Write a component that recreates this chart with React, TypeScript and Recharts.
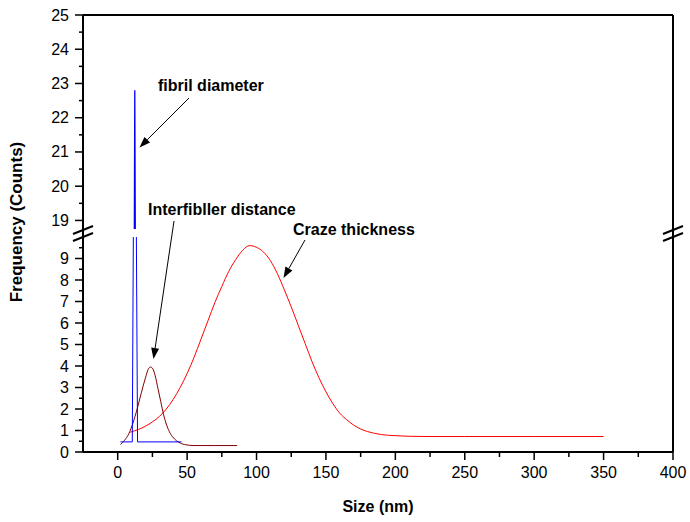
import { LineChart, Line, XAxis, YAxis } from "recharts";

// Craze thickness (red)
const crazeX = [9, 15, 20, 25, 30, 35, 40, 45, 50, 55, 60, 65, 70, 75, 80, 85, 90, 95, 100, 105, 110, 115, 120, 125, 130, 135, 140, 145, 150, 155, 160, 165, 170, 175, 180, 185, 190, 200, 210, 225, 250, 300, 350];
const crazeY = [0.92, 1.05, 1.2, 1.4, 1.65, 2.0, 2.45, 3.0, 3.65, 4.4, 5.25, 6.1, 6.95, 7.7, 8.4, 8.95, 9.38, 9.6, 9.52, 9.3, 8.9, 8.3, 7.55, 6.75, 5.9, 5.05, 4.2, 3.45, 2.8, 2.25, 1.8, 1.5, 1.25, 1.07, 0.95, 0.87, 0.81, 0.76, 0.73, 0.72, 0.72, 0.72, 0.72];

// Interfibller distance (dark red)
const gapX = [2, 5, 8, 11, 14, 17, 20, 22, 23.5, 25, 27, 29, 31, 33, 35, 38, 41, 44, 48, 55, 70, 86];
const gapY = [0.35, 0.55, 0.85, 1.35, 2.0, 2.75, 3.45, 3.85, 3.95, 3.9, 3.55, 2.95, 2.35, 1.75, 1.3, 0.85, 0.6, 0.45, 0.35, 0.3, 0.3, 0.3];

// fibril diameter (blue)
const fibrilX = [2, 10.5, 12.3, 14.3, 46];
const fibrilY = [0.47, 0.47, 22.8, 0.47, 0.47];

const xTicks = [0, 25, 50, 75, 100, 125, 150, 175, 200, 225, 250, 275, 300, 325, 350, 375, 400];
const lowTicks = [0, 0.5, 1, 1.5, 2, 2.5, 3, 3.5, 4, 4.5, 5, 5.5, 6, 6.5, 7, 7.5, 8, 8.5, 9, 9.5];
const highTicks = [19, 19.5, 20, 20.5, 21, 21.5, 22, 22.5, 23, 23.5, 24, 24.5, 25];
const topTicks = [0, 1, 2, 3, 4, 5, 6, 7, 8, 9, 10, 11, 12, 13, 14, 15, 16, 17, 18];

const toRows = (xs: number[], ys: number[]) => xs.map((x, i) => ({ x, y: ys[i] }));
const crazeData = toRows(crazeX, crazeY);
const gapData = toRows(gapX, gapY);
const fibrilData = toRows(fibrilX, fibrilY);

const FONT = "'Liberation Sans', Arial, sans-serif";
const AXIS = { stroke: "#000", strokeWidth: 2 };

const LeftTick = (p: any) => {
  const major = Number.isInteger(p.payload.value);
  return (
    <g>
      <line x1={p.x - (major ? 8 : 4)} x2={p.x} y1={p.y} y2={p.y} stroke="#000" strokeWidth={1.5} />
      {major && (
        <text x={p.x - 14} y={p.y} dy={5.5} textAnchor="end" fontSize={16} fontFamily={FONT} fill="#000">
          {p.payload.value}
        </text>
      )}
    </g>
  );
};

const RightTick = (p: any) => (
  <line x1={p.x} x2={p.x + 3} y1={p.y} y2={p.y} stroke="#000" strokeWidth={1} />
);

const BottomTick = (p: any) => {
  const major = p.payload.value % 50 === 0;
  return (
    <g>
      <line x1={p.x} x2={p.x} y1={p.y} y2={p.y + (major ? 8 : 5)} stroke="#000" strokeWidth={1.5} />
      {major && (
        <text x={p.x} y={p.y + 26} textAnchor="middle" fontSize={16} fontFamily={FONT} fill="#000">
          {p.payload.value}
        </text>
      )}
    </g>
  );
};

const TopTick = (p: any) => (
  <line x1={p.x} x2={p.x} y1={p.y} y2={p.y + 3} stroke="#000" strokeWidth={1} />
);

function Arrow({ x1, y1, x2, y2 }: { x1: number; y1: number; x2: number; y2: number }) {
  const a = Math.atan2(y2 - y1, x2 - x1);
  const len = 11;
  const w = 4;
  const bx = x2 - len * Math.cos(a);
  const by = y2 - len * Math.sin(a);
  const px = -Math.sin(a) * w;
  const py = Math.cos(a) * w;
  return (
    <g>
      <line x1={x1} y1={y1} x2={bx} y2={by} stroke="#000" strokeWidth={1} />
      <polygon points={`${x2},${y2} ${bx + px},${by + py} ${bx - px},${by - py}`} fill="#000" />
    </g>
  );
}

function BreakMark({ x, y }: { x: number; y: number }) {
  return (
    <g stroke="#000" strokeWidth={2}>
      <line x1={x - 10} y1={y + 1} x2={x + 10} y2={y - 7} />
      <line x1={x - 10} y1={y + 8} x2={x + 10} y2={y} />
    </g>
  );
}

export default function App() {
  return (
    <div style={{ position: "absolute", left: 0, top: 0, width: 690, height: 522, background: "#fff" }}>
      {/* upper segment 18.75 - 25 */}
      <div style={{ position: "absolute", left: 0, top: 0 }}>
        <LineChart width={690} height={229} margin={{ top: 10, right: 7, bottom: 0, left: 23 }}>
          <XAxis xAxisId="x" type="number" dataKey="x" domain={[-25, 400]} hide />
          <XAxis xAxisId="top" orientation="top" type="number" domain={[-1, 18.5]} ticks={topTicks}
            interval={0} height={5} tickSize={0} tickMargin={0} tickLine={false} axisLine={AXIS} tick={TopTick} />
          <YAxis yAxisId="l" type="number" domain={[18.75, 25]} allowDataOverflow ticks={highTicks}
            interval={0} width={60} tickSize={0} tickMargin={0} tickLine={false} axisLine={AXIS} tick={LeftTick} />
          <YAxis yAxisId="r" orientation="right" type="number" domain={[18.75, 25]} ticks={highTicks}
            interval={0} width={10} tickSize={0} tickMargin={0} tickLine={false} axisLine={AXIS} tick={RightTick} />
          <Line xAxisId="x" yAxisId="l" data={fibrilData} dataKey="y" type="linear" stroke="#0000ff"
            strokeWidth={1.3} dot={false} isAnimationActive={false} />
        </LineChart>
      </div>

      {/* lower segment 0 - 10 */}
      <div style={{ position: "absolute", left: 0, top: 0 }}>
        <LineChart width={690} height={522} margin={{ top: 237, right: 7, bottom: 30, left: 23 }}>
          <XAxis xAxisId="x" type="number" dataKey="x" domain={[-25, 400]} ticks={xTicks} interval={0}
            height={40} tickSize={0} tickMargin={0} tickLine={false} axisLine={AXIS} tick={BottomTick} />
          <YAxis yAxisId="l" type="number" domain={[0, 10]} allowDataOverflow ticks={lowTicks}
            interval={0} width={60} tickSize={0} tickMargin={0} tickLine={false} axisLine={AXIS} tick={LeftTick} />
          <YAxis yAxisId="r" orientation="right" type="number" domain={[0, 10]} ticks={lowTicks}
            interval={0} width={10} tickSize={0} tickMargin={0} tickLine={false} axisLine={AXIS} tick={RightTick} />
          <Line xAxisId="x" yAxisId="l" data={crazeData} dataKey="y" type="monotone" stroke="#ff0000"
            strokeWidth={1} dot={false} isAnimationActive={false} />
          <Line xAxisId="x" yAxisId="l" data={gapData} dataKey="y" type="monotone" stroke="#800000"
            strokeWidth={1} dot={false} isAnimationActive={false} />
          <Line xAxisId="x" yAxisId="l" data={fibrilData} dataKey="y" type="linear" stroke="#0000ff"
            strokeWidth={1} dot={false} isAnimationActive={false} />
        </LineChart>
      </div>

      {/* axis titles, break marks, annotations */}
      <svg width={690} height={522} style={{ position: "absolute", left: 0, top: 0, pointerEvents: "none" }}
        fontFamily={FONT} fontWeight="bold" fontSize={16}>
        <line x1={83} x2={83} y1={228} y2={238} stroke="#000" strokeWidth={2} />
        <line x1={673} x2={673} y1={228} y2={238} stroke="#000" strokeWidth={2} />
        <BreakMark x={83} y={233} />
        <BreakMark x={673} y={233} />

        <text x={378} y={512} textAnchor="middle">Size (nm)</text>
        <text x={22} y={222} textAnchor="middle" fontSize={17} transform="rotate(-90 22 222)">Frequency (Counts)</text>

        <text x={158} y={91}>fibril diameter</text>
        <Arrow x1={189} y1={98} x2={139.5} y2={147.5} />
        <text x={148} y={215}>Interfibller distance</text>
        <Arrow x1={174} y1={221} x2={153.5} y2={359} />
        <text x={293} y={235}>Craze thickness</text>
        <Arrow x1={305} y1={240} x2={283.5} y2={278} />
      </svg>
    </div>
  );
}
